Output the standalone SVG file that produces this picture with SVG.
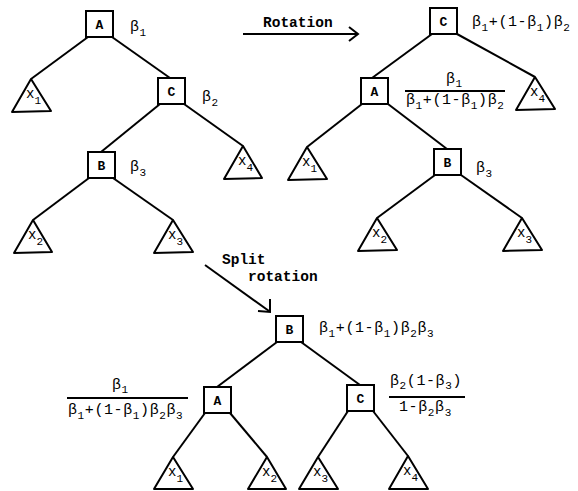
<svg xmlns="http://www.w3.org/2000/svg" width="578" height="491" viewBox="0 0 578 491">
<style>
  .box rect { fill: #fff; stroke: #000; stroke-width: 2; }
  .box text { font-family: "Liberation Mono", monospace; font-weight: bold; font-size: 13px; text-anchor: middle; }
  .tri polygon { fill: #fff; stroke: #000; stroke-width: 2; stroke-linejoin: round; }
  .tri text { font-family: "Liberation Mono", monospace; font-size: 14px; }
  .tri .s { font-size: 11px; }
  .edges line, .edges polyline { stroke: #000; stroke-width: 2; fill: none; }
  .lbl { font-family: "Liberation Mono", monospace; font-size: 15px; letter-spacing: 0.6px; }
  .lbl .s { font-size: 11px; }
  .cap { font-family: "Liberation Mono", monospace; font-size: 14.5px; font-weight: bold; }
  .frac { stroke: #000; stroke-width: 2; }
</style>
<rect width="578" height="491" fill="#fff"/>

<g class="edges">
  <!-- top-left tree -->
  <line x1="88" y1="37" x2="31" y2="79"/>
  <line x1="112" y1="37" x2="170" y2="78"/>
  <line x1="160" y1="104" x2="101" y2="152"/>
  <line x1="184" y1="104" x2="243" y2="146"/>
  <line x1="89" y1="178" x2="33" y2="220"/>
  <line x1="113" y1="178" x2="173" y2="220"/>
  <!-- top-right tree -->
  <line x1="432" y1="34" x2="372" y2="78"/>
  <line x1="457" y1="34" x2="535" y2="77"/>
  <line x1="362" y1="104" x2="307" y2="147"/>
  <line x1="388" y1="104" x2="447" y2="149"/>
  <line x1="435" y1="175" x2="377" y2="218"/>
  <line x1="461" y1="175" x2="522" y2="218"/>
  <!-- bottom tree -->
  <line x1="277" y1="342" x2="217" y2="387"/>
  <line x1="301" y1="342" x2="360" y2="385"/>
  <line x1="205" y1="413" x2="173" y2="457"/>
  <line x1="230" y1="413" x2="267" y2="457"/>
  <line x1="348" y1="411" x2="318" y2="457"/>
  <line x1="373" y1="411" x2="408" y2="456"/>
  <!-- rotation arrow -->
  <line x1="243" y1="34" x2="357" y2="34"/>
  <polyline points="349,27 358,34 349,41"/>
  <!-- split rotation arrow -->
  <line x1="205" y1="265" x2="269" y2="311"/>
  <polyline points="270,299 270,312 258,311"/>
</g>

<!-- Top-left tree nodes -->
<g id="tl-A" class="box"><rect x="86" y="11" width="27" height="26"/><text x="99.5" y="28.5">A</text></g>
<g id="tl-C" class="box"><rect x="158" y="78" width="27" height="26"/><text x="171.5" y="95.5">C</text></g>
<g id="tl-B" class="box"><rect x="88" y="152" width="27" height="26"/><text x="101.5" y="169.5">B</text></g>
<g id="tl-x1" class="tri"><polygon points="31,79 12,112 51,111"/><text x="26" y="98">x<tspan class="s" dy="6">1</tspan></text></g>
<g id="tl-x4" class="tri"><polygon points="243,146 224,179 262,178"/><text x="238" y="165">x<tspan class="s" dy="6">4</tspan></text></g>
<g id="tl-x2" class="tri"><polygon points="33,220 14,253 52,252"/><text x="28" y="239">x<tspan class="s" dy="6">2</tspan></text></g>
<g id="tl-x3" class="tri"><polygon points="173,220 154,253 193,252"/><text x="168" y="239">x<tspan class="s" dy="6">3</tspan></text></g>
<text class="lbl" x="130" y="31">β<tspan class="s" dy="5">1</tspan></text>
<text class="lbl" x="202" y="101">β<tspan class="s" dy="5">2</tspan></text>
<text class="lbl" x="130" y="171">β<tspan class="s" dy="5">3</tspan></text>

<text class="cap" x="263" y="27">Rotation</text>

<!-- Top-right tree nodes -->
<g id="tr-C" class="box"><rect x="430" y="8" width="27" height="26"/><text x="443.5" y="25.5">C</text></g>
<g id="tr-A" class="box"><rect x="361" y="78" width="27" height="26"/><text x="374.5" y="95.5">A</text></g>
<g id="tr-B" class="box"><rect x="434" y="149" width="27" height="26"/><text x="447.5" y="166.5">B</text></g>
<g id="tr-x4" class="tri"><polygon points="535,77 516,110 555,109"/><text x="530" y="96">x<tspan class="s" dy="6">4</tspan></text></g>
<g id="tr-x1" class="tri"><polygon points="307,147 288,180 327,179"/><text x="302" y="166">x<tspan class="s" dy="6">1</tspan></text></g>
<g id="tr-x2" class="tri"><polygon points="377,218 358,251 397,250"/><text x="372" y="237">x<tspan class="s" dy="6">2</tspan></text></g>
<g id="tr-x3" class="tri"><polygon points="522,218 503,251 542,250"/><text x="517" y="237">x<tspan class="s" dy="6">3</tspan></text></g>
<text class="lbl" x="472" y="26">β<tspan class="s" dy="5">1</tspan><tspan dy="-5">+(1-β</tspan><tspan class="s" dy="5">1</tspan><tspan dy="-5">)β</tspan><tspan class="s" dy="5">2</tspan></text>
<text class="lbl" x="446" y="83">β<tspan class="s" dy="4">1</tspan></text>
<line class="frac" x1="405" y1="91" x2="505" y2="91"/>
<text class="lbl" x="406" y="104">β<tspan class="s" dy="5">1</tspan><tspan dy="-5">+(1-β</tspan><tspan class="s" dy="5">1</tspan><tspan dy="-5">)β</tspan><tspan class="s" dy="5">2</tspan></text>
<text class="lbl" x="476" y="172">β<tspan class="s" dy="5">3</tspan></text>

<text class="cap" x="222" y="264">Split</text>
<text class="cap" x="248" y="281">rotation</text>

<!-- Bottom tree nodes -->
<g id="b-B" class="box"><rect x="276" y="316" width="27" height="26"/><text x="289.5" y="333.5">B</text></g>
<g id="b-A" class="box"><rect x="204" y="387" width="27" height="26"/><text x="217.5" y="404.5">A</text></g>
<g id="b-C" class="box"><rect x="347" y="385" width="27" height="26"/><text x="360.5" y="402.5">C</text></g>
<g id="b-x1" class="tri"><polygon points="173,457 154,489 193,489"/><text x="168" y="476">x<tspan class="s" dy="6">1</tspan></text></g>
<g id="b-x2" class="tri"><polygon points="267,457 248,489 286,489"/><text x="262" y="476">x<tspan class="s" dy="6">2</tspan></text></g>
<g id="b-x3" class="tri"><polygon points="318,457 299,489 338,489"/><text x="313" y="476">x<tspan class="s" dy="6">3</tspan></text></g>
<g id="b-x4" class="tri"><polygon points="408,456 389,489 428,489"/><text x="403" y="475">x<tspan class="s" dy="6">4</tspan></text></g>
<text class="lbl" x="319" y="332">β<tspan class="s" dy="5">1</tspan><tspan dy="-5">+(1-β</tspan><tspan class="s" dy="5">1</tspan><tspan dy="-5">)β</tspan><tspan class="s" dy="5">2</tspan><tspan dy="-5">β</tspan><tspan class="s" dy="5">3</tspan></text>
<text class="lbl" x="112" y="389">β<tspan class="s" dy="4">1</tspan></text>
<line class="frac" x1="67" y1="398" x2="188" y2="398"/>
<text class="lbl" x="68" y="414">β<tspan class="s" dy="5">1</tspan><tspan dy="-5">+(1-β</tspan><tspan class="s" dy="5">1</tspan><tspan dy="-5">)β</tspan><tspan class="s" dy="5">2</tspan><tspan dy="-5">β</tspan><tspan class="s" dy="5">3</tspan></text>
<text class="lbl" x="390" y="385">β<tspan class="s" dy="4">2</tspan><tspan dy="-4">(1-β</tspan><tspan class="s" dy="4">3</tspan><tspan dy="-4">)</tspan></text>
<line class="frac" x1="389" y1="397" x2="465" y2="397"/>
<text class="lbl" x="399" y="411">1-β<tspan class="s" dy="5">2</tspan><tspan dy="-5">β</tspan><tspan class="s" dy="5">3</tspan></text>
</svg>
